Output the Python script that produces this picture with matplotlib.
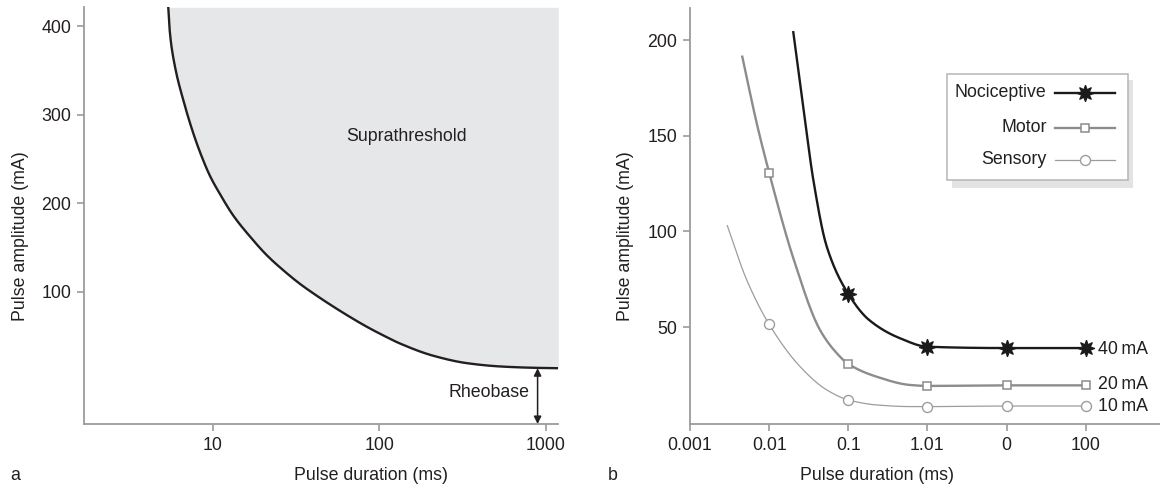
import numpy as np
import matplotlib
matplotlib.use("Agg")
import matplotlib.pyplot as plt
from matplotlib.lines import Line2D
from matplotlib.patches import Rectangle
from matplotlib import font_manager

# ---------------- data ----------------
# Panel a: strength-duration curve
a_duration = [5.42, 5.55, 5.95, 6.67, 7.66, 8.40, 9.65, 11.07, 13.3, 16.8, 21.1, 26.6, 33.4,
              42.1, 53.0, 66.7, 84.0, 106, 133, 210, 336, 530, 836, 1186]
a_amplitude = [422.3, 392.2, 354.4, 316.7, 279.1, 257.9, 230.8, 210.4, 186.1, 162.1, 141.3,
               124.0, 108.8, 95.4, 83.0, 71.3, 60.3, 50.3, 41.3, 27.5, 19.0, 15.3, 13.8, 13.3]
a_xticks = [10, 100, 1000]
a_xticklabels = ["10", "100", "1000"]
a_yticks = [100, 200, 300, 400]
rheobase_x = 891
rheobase_y = 13.3

# Panel b: three fibre types
b_xticks = [0.001, 0.01, 0.1, 1, 10, 100]
b_xticklabels = ["0.001", "0.01", "0.1", "1.01", "0", "100"]
b_yticks = [50, 100, 150, 200]

noci_mark_x = [0.1, 1, 10, 100]
noci_mark_y = [67.3, 39.7, 39.0, 39.0]
noci_trace_x = [0.0202, 0.027, 0.0362, 0.0535, 0.183, 0.452]
noci_trace_y = [204.1, 165.2, 126.8, 92.0, 53.7, 44.1]

motor_mark_x = [0.01, 0.1, 1, 10, 100]
motor_mark_y = [130.7, 30.7, 19.2, 19.5, 19.5]
motor_trace_x = [0.00458, 0.00697, 0.0202, 0.044, 0.0716, 0.229, 0.604]
motor_trace_y = [191.3, 156.5, 86.0, 48.4, 36.3, 24.0, 19.7]

sens_mark_x = [0.01, 0.1, 1, 10, 100]
sens_mark_y = [51.4, 11.9, 8.4, 8.7, 8.7]
sens_trace_x = [0.00296, 0.00521, 0.0246, 0.0535, 0.229, 0.604]
sens_trace_y = [103.0, 74.6, 29.3, 17.1, 9.25, 8.4]

series_names = ["Nociceptive", "Motor", "Sensory"]
end_labels = ["40\u2009mA", "20\u2009mA", "10\u2009mA"]
end_label_y = [38.4, 19.7, 8.7]

# ---------------- style ----------------
avail = {f.name for f in font_manager.fontManager.ttflist}
if "Liberation Sans Narrow" in avail:
    FAM = ["Liberation Sans Narrow", "DejaVu Sans"]
    FS = 14.5
else:
    FAM = ["Liberation Sans", "DejaVu Sans"]
    FS = 12.8
plt.rcParams["font.family"] = FAM
TXT = "#231f20"
SPINE = "#9b9b9b"

W, H = 1160, 487
fig = plt.figure(figsize=(W / 100, H / 100), dpi=100)


def fx(px):
    return px / W


def fy(py):
    return 1 - py / H


def pchip(x, y, xs):
    x = np.asarray(x, float)
    y = np.asarray(y, float)
    h = np.diff(x)
    d = np.diff(y) / h
    n = len(x)
    m = np.zeros(n)
    m[0], m[-1] = d[0], d[-1]
    for k in range(1, n - 1):
        if d[k - 1] * d[k] <= 0:
            m[k] = 0
        else:
            w1 = 2 * h[k] + h[k - 1]
            w2 = h[k] + 2 * h[k - 1]
            m[k] = (w1 + w2) / (w1 / d[k - 1] + w2 / d[k])
    idx = np.clip(np.searchsorted(x, xs) - 1, 0, n - 2)
    t = (xs - x[idx]) / h[idx]
    h00 = 2 * t**3 - 3 * t**2 + 1
    h10 = t**3 - 2 * t**2 + t
    h01 = -2 * t**3 + 3 * t**2
    h11 = t**3 - t**2
    return h00 * y[idx] + h10 * h[idx] * m[idx] + h01 * y[idx + 1] + h11 * h[idx] * m[idx + 1]


def smooth_log(xv, yv, num=400):
    order = np.argsort(xv)
    lx = np.log10(np.asarray(xv, float)[order])
    yy = np.asarray(yv, float)[order]
    ls = np.linspace(lx[0], lx[-1], num)
    return 10 ** ls, pchip(lx, yy, ls)


def style_axes(ax):
    for s in ["top", "right"]:
        ax.spines[s].set_visible(False)
    for s in ["left", "bottom"]:
        ax.spines[s].set_color(SPINE)
        ax.spines[s].set_linewidth(1.3)
    ax.tick_params(axis="both", which="major", length=5, width=1.2, color=SPINE,
                   labelcolor=TXT, labelsize=FS, pad=4)
    ax.tick_params(axis="both", which="minor", length=0)
    ax.set_facecolor("none")


# ---------------- panel a ----------------
axa = fig.add_axes([fx(84), fy(424), fx(558.3 - 84), (424 - 7.3) / H])
style_axes(axa)
axa.set_xscale("log")
axa.set_xlim(1.693, 1186)
axa.set_ylim(-49.8, 421.6)
ax_top = 421.6
xa, ya = smooth_log(a_duration, a_amplitude, 800)
axa.fill_between(xa, ya, ax_top, color="#e6e7e9", lw=0, zorder=1)
axa.plot(xa, ya, color=TXT, lw=1.7, zorder=3, clip_on=True)
axa.set_xticks(a_xticks)
axa.set_xticklabels(a_xticklabels)
axa.xaxis.set_minor_locator(matplotlib.ticker.NullLocator())
axa.set_yticks(a_yticks)
axa.text(146, 275.5, "Suprathreshold", ha="center", va="center", fontsize=FS, color=TXT)
axa.annotate("", xy=(rheobase_x, rheobase_y), xytext=(rheobase_x, -49.8),
             arrowprops=dict(arrowstyle="<|-|>", color=TXT, lw=1.1, mutation_scale=11,
                             shrinkA=0, shrinkB=0), zorder=4)
axa.text(802, -14.7, "Rheobase", ha="right", va="center", fontsize=FS, color=TXT)

# ---------------- panel b ----------------
axb = fig.add_axes([fx(690), fy(424), fx(470), (424 - 8.3) / H])
style_axes(axb)
axb.set_xscale("log")
axb.set_xlim(0.001, 10 ** 2.939)
axb.set_ylim(-0.7, 216.6)
axb.set_xticks(b_xticks)
axb.set_xticklabels(b_xticklabels)
axb.xaxis.set_minor_locator(matplotlib.ticker.NullLocator())
axb.set_yticks(b_yticks)

series = [
    (noci_mark_x, noci_mark_y, noci_trace_x, noci_trace_y,
     dict(color="#1a1a1a", lw=1.7), dict(marker=(8, 1, 0), ms=12, mfc="#1a1a1a", mec="#1a1a1a", mew=0.8)),
    (motor_mark_x, motor_mark_y, motor_trace_x, motor_trace_y,
     dict(color="#8c8c8c", lw=1.7), dict(marker="s", ms=6.2, mfc="white", mec="#8c8c8c", mew=1.1)),
    (sens_mark_x, sens_mark_y, sens_trace_x, sens_trace_y,
     dict(color="#9d9d9d", lw=0.9), dict(marker="o", ms=7.2, mfc="white", mec="#9d9d9d", mew=1.0)),
]
for mx, my, tx, ty, lstyle, mstyle in series:
    cx, cy = smooth_log(list(mx) + list(tx), list(my) + list(ty), 500)
    axb.plot(cx, cy, zorder=3, **lstyle)
    axb.plot(mx, my, ls="none", zorder=4, **mstyle)

for lab, yv in zip(end_labels, end_label_y):
    axb.text(144, yv, lab, ha="left", va="center", fontsize=FS, color=TXT)

# legend (drawn by hand: right-aligned labels, drop shadow)
fig.add_artist(Rectangle((fx(951.7), fy(187.7)), fx(1133.3 - 951.7), (187.7 - 80) / H,
                         transform=fig.transFigure, facecolor="#e3e3e3", edgecolor="none", zorder=5))
fig.add_artist(Rectangle((fx(946.7), fy(180)), fx(1127.7 - 946.7), (180 - 74) / H,
                         transform=fig.transFigure, facecolor="white", edgecolor="#b5b5b5", lw=1.1, zorder=6))
row_y = [92.7, 127.7, 160]
for name, ry, (mx, my, tx, ty, lstyle, mstyle) in zip(series_names, row_y, series):
    fig.text(fx(1046.7), fy(ry), name, ha="right", va="center", fontsize=FS, color=TXT, zorder=7)
    fig.add_artist(Line2D([fx(1055), fx(1115)], [fy(ry), fy(ry)], transform=fig.transFigure,
                          zorder=7, **lstyle))
    fig.add_artist(Line2D([fx(1085)], [fy(ry)], transform=fig.transFigure, ls="none",
                          zorder=8, **mstyle))

# axis labels and panel letters
fig.text(fx(371.5), fy(475), "Pulse duration (ms)", ha="center", va="center", fontsize=FS, color=TXT)
fig.text(fx(877), fy(475), "Pulse duration (ms)", ha="center", va="center", fontsize=FS, color=TXT)
fig.text(fx(20.3), fy(236), "Pulse amplitude (mA)", ha="center", va="center", rotation=90,
         fontsize=FS, color=TXT)
fig.text(fx(626), fy(236), "Pulse amplitude (mA)", ha="center", va="center", rotation=90,
         fontsize=FS, color=TXT)
fig.text(fx(14.8), fy(475), "a", ha="center", va="center", fontsize=FS, color=TXT)
fig.text(fx(613), fy(475), "b", ha="center", va="center", fontsize=FS, color=TXT)

fig.savefig("out.png", dpi=100)
